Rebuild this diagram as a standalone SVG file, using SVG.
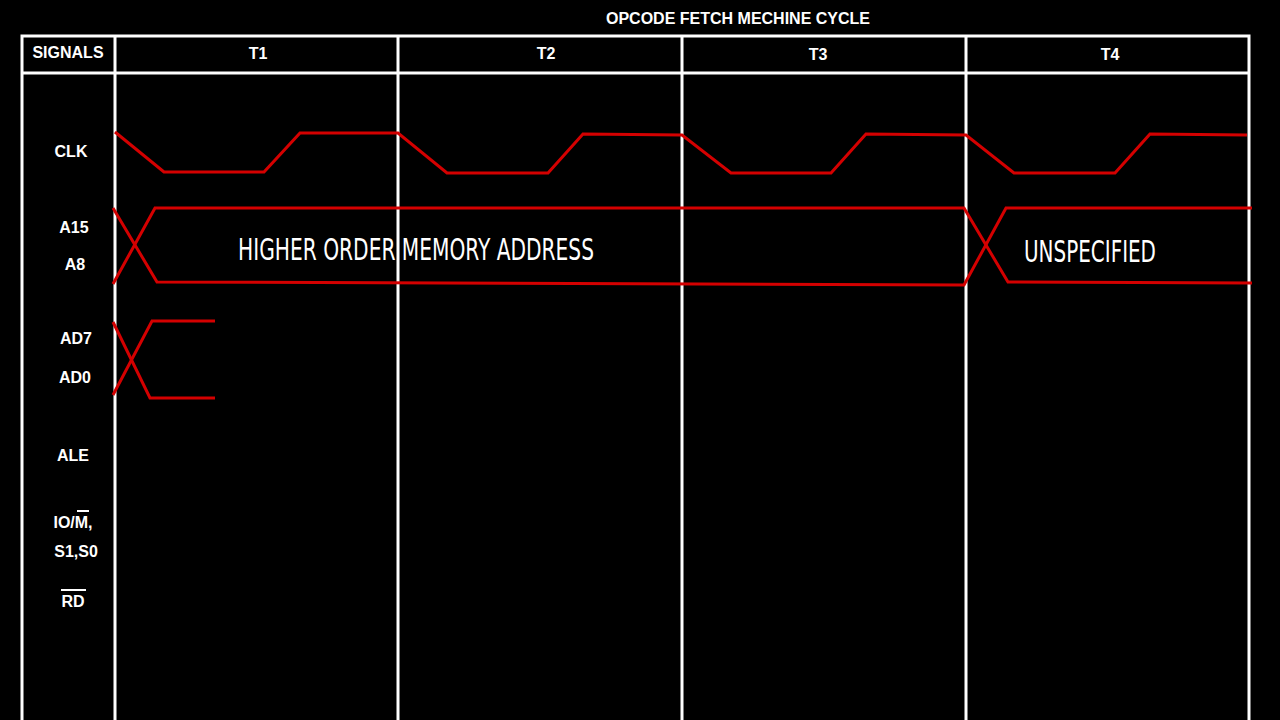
<svg xmlns="http://www.w3.org/2000/svg" width="1280" height="720" viewBox="0 0 1280 720">
<style>
.g{stroke:#fff;stroke-width:3;fill:none}
.s{stroke:#d40000;stroke-width:3;fill:none;stroke-linejoin:miter}
.l{font-family:"Liberation Sans",Arial,sans-serif;font-weight:bold;font-size:16px;fill:#fff;text-anchor:middle}
.b{font-family:"DejaVu Sans Condensed","DejaVu Sans",sans-serif;font-size:30px;fill:#fff}
</style>
<rect width="1280" height="720" fill="#000"/>
<text class="l" x="738" y="24">OPCODE FETCH MECHINE CYCLE</text>
<g id="grid">
<path class="g" d="M22,720 V36 H1249 V720 M22,73 H1249 M115,36 V720 M398,36 V720 M682,36 V720 M966,36 V720"/>
</g>
<g id="headers">
<text class="l" x="68" y="58">SIGNALS</text>
<text class="l" x="258" y="59">T1</text>
<text class="l" x="546" y="59">T2</text>
<text class="l" x="818" y="60">T3</text>
<text class="l" x="1110" y="60">T4</text>
</g>
<g id="signal-labels">
<text class="l" x="71" y="157">CLK</text>
<text class="l" x="74" y="233">A15</text>
<text class="l" x="75" y="270">A8</text>
<text class="l" x="76" y="344">AD7</text>
<text class="l" x="75" y="383">AD0</text>
<text class="l" x="73" y="461">ALE</text>
<text class="l" x="73" y="528">IO/M,</text>
<path d="M77,511 H89" stroke="#fff" stroke-width="2"/>
<text class="l" x="76" y="557">S1,S0</text>
<text class="l" x="73" y="607">RD</text>
<path d="M61,590 H86" stroke="#fff" stroke-width="2"/>
</g>
<g id="connectors">
<path class="s" d="M115,132 L164,172 H264 L300,133 H398 L447,173 H548 L583,134 L682,135 L731,173 H831 L866,134 L966,135 L1014,173 H1115 L1150,134 L1247,135"/>
<path class="s" d="M113,208 L157,282 L964,285 L1006,208 H1252"/>
<path class="s" d="M113,284 L155,208 H964 L1008,282 L1252,283"/>
<path class="s" d="M113,322 L150,398 H215"/>
<path class="s" d="M113,395 L152,321 H215"/>
</g>
<g id="bus-labels">
<text class="b" x="238" y="260" textLength="356" lengthAdjust="spacingAndGlyphs">HIGHER ORDER MEMORY ADDRESS</text>
<text class="b" x="1024" y="262" textLength="132" lengthAdjust="spacingAndGlyphs">UNSPECIFIED</text>
</g>
</svg>
